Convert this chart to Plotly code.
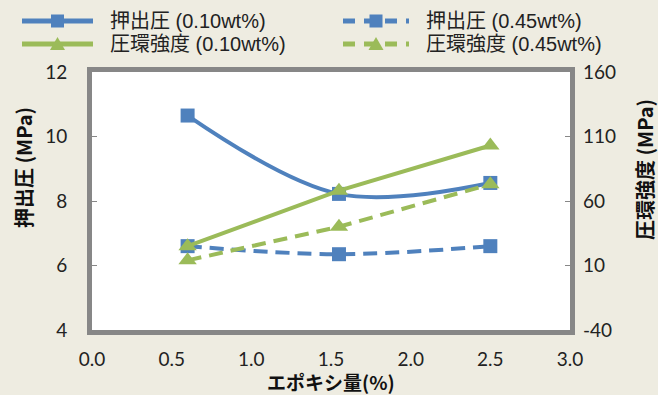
import plotly.graph_objects as go

# ---- data ----
x_vals = [0.6, 1.55, 2.5]
press_010 = [10.65, 8.22, 8.56]
press_045 = [6.6, 6.35, 6.6]
ring_010 = [25, 68, 103]
ring_045 = [14, 40, 73]
series_names = ["押出圧 (0.10wt%)", "押出圧 (0.45wt%)", "圧環強度 (0.10wt%)", "圧環強度 (0.45wt%)"]
y2_tickvals = [-40, 10, 60, 110, 160]
y2_ticktext = ["-40", "10", "60", "110", "160"]
x_title = "エポキシ量(%)"
y_title = "押出圧 (MPa)"
y2_title = "圧環強度 (MPa)"

blue = "#4F81BD"
green = "#9BBB59"
font_jp = "Noto Sans CJK JP"
dash = "14px,8px"

W, H = 658, 395
ML, MR, MT, MB = 92, 88, 72, 65
PW, PH = W - ML - MR, H - MT - MB


def fx(p):
    return (p - ML) / PW


def fy(p):
    return (H - MB - p) / PH


fig = go.Figure()
fig.add_trace(go.Scatter(x=x_vals, y=press_010, name=series_names[0], mode="lines+markers",
                         line=dict(color=blue, width=4, shape="spline", smoothing=1.0),
                         marker=dict(symbol="square", size=14, color=blue)))
fig.add_trace(go.Scatter(x=x_vals, y=press_045, name=series_names[1], mode="lines+markers",
                         line=dict(color=blue, width=4, dash=dash, shape="spline", smoothing=1.0),
                         marker=dict(symbol="square", size=14, color=blue)))
fig.add_trace(go.Scatter(x=x_vals, y=ring_010, name=series_names[2], mode="lines+markers", yaxis="y2",
                         line=dict(color=green, width=4),
                         marker=dict(symbol="triangle-up", size=16, color=green)))
fig.add_trace(go.Scatter(x=x_vals, y=ring_045, name=series_names[3], mode="lines+markers", yaxis="y2",
                         line=dict(color=green, width=4, dash=dash),
                         marker=dict(symbol="triangle-up", size=16, color=green)))

# ---- legend drawn as real text + sample shapes (Excel style long samples) ----
legend_items = [
    # name index, color, dashed, symbol, line x0, x1, text x, row y
    (0, blue, False, "square", 22, 93, 108, 21),
    (1, blue, True, "square", 343, 409, 424, 21),
    (2, green, False, "triangle", 22, 93, 108, 44),
    (3, green, True, "triangle", 343, 409, 424, 44),
]
shapes = []
annotations = []
legfont = dict(family="Liberation Sans, " + font_jp, size=20, color="#222")
for idx, col, dashed, sym, x0, x1, tx, ry in legend_items:
    shapes.append(dict(type="line", xref="paper", yref="paper", x0=fx(x0), x1=fx(x1), y0=fy(ry), y1=fy(ry),
                       line=dict(color=col, width=5, dash="12px,9px" if dashed else "solid")))
    cx = (x0 + x1) / 2
    if sym == "square":
        shapes.append(dict(type="rect", xref="paper", yref="paper", x0=fx(cx - 6.5), x1=fx(cx + 6.5),
                           y0=fy(ry + 6.5), y1=fy(ry - 6.5), fillcolor=col, line=dict(width=0)))
    else:
        path = "M{},{} L{},{} L{},{} Z".format(fx(cx - 7.5), fy(ry + 6), fx(cx + 7.5), fy(ry + 6), fx(cx), fy(ry - 7))
        shapes.append(dict(type="path", xref="paper", yref="paper", path=path, fillcolor=col, line=dict(width=0)))
    annotations.append(dict(text=series_names[idx], xref="paper", yref="paper", x=fx(tx), y=fy(ry),
                            xanchor="left", yanchor="middle", showarrow=False, font=legfont))

titlefont = dict(family=font_jp, size=20, color="#111")
annotations += [
    dict(text="<b>" + y_title + "</b>", xref="paper", yref="paper", x=fx(23), y=fy(168), textangle=-90,
         showarrow=False, font=titlefont, xanchor="center", yanchor="middle"),
    dict(text="<b>" + y2_title + "</b>", xref="paper", yref="paper", x=fx(644), y=fy(170), textangle=-90,
         showarrow=False, font=titlefont, xanchor="center", yanchor="middle"),
    dict(text="<b>" + x_title + "</b>", xref="paper", yref="paper", x=0.5, y=fy(381),
         showarrow=False, font=dict(family=font_jp, size=19, color="#111"), xanchor="center", yanchor="middle"),
]

tickfont = dict(family="Lato, Open Sans", size=19, color="#222")
fig.update_layout(
    width=W, height=H,
    margin=dict(l=ML, r=MR, t=MT, b=MB, autoexpand=False),
    paper_bgcolor="#EEECE1", plot_bgcolor="white",
    font=dict(family=font_jp, color="#222"),
    showlegend=False,
    xaxis=dict(range=[0, 3], dtick=0.5, tickformat=".1f", showgrid=False, zeroline=False,
               showline=True, mirror=True, linecolor="#878787", linewidth=5,
               ticks="", tickfont=tickfont, ticklabelstandoff=8),
    yaxis=dict(range=[4, 12], dtick=2, showgrid=False, zeroline=False,
               showline=True, mirror=True, linecolor="#878787", linewidth=5,
               ticks="inside", ticklen=5, tickcolor="#878787", tickfont=tickfont, ticklabelstandoff=16),
    yaxis2=dict(range=[-40, 160], tickvals=y2_tickvals, ticktext=y2_ticktext, overlaying="y", side="right",
                showgrid=False, zeroline=False,
                ticks="inside", ticklen=5, tickcolor="#878787", tickfont=tickfont, ticklabelstandoff=12),
    shapes=shapes,
    annotations=annotations,
)
fig.write_html("out.html")
